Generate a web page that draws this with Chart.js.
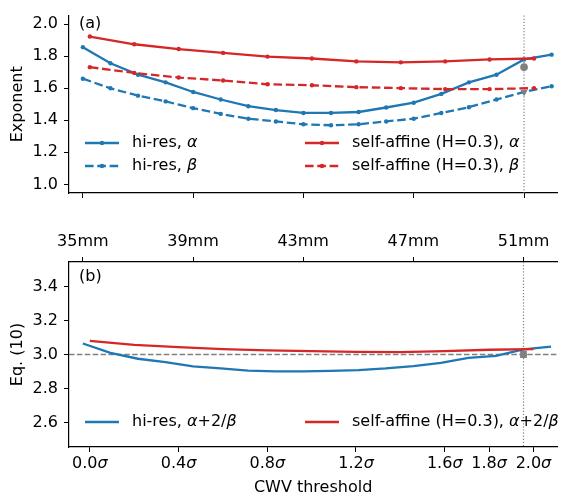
<!DOCTYPE html>
<html><head><meta charset="utf-8">
<script src="https://cdn.jsdelivr.net/npm/chart.js@4"></script>
<style>
html,body{margin:0;padding:0;background:#fff;overflow:hidden;width:562px;height:498px}
#wa{position:absolute;left:0;top:0;width:562px;height:215px}
#wb{position:absolute;left:0;top:215px;width:562px;height:283px}
</style></head><body>
<div id="wa"><canvas id="ca"></canvas></div>
<div id="wb"><canvas id="cb"></canvas></div>
<script>
// ---- data ----
const mmHires = [35,36,37,38,39,40,41,42,43,44,45,46,47,48,49,50,51,52];
const hiresAlpha = [1.857,1.756,1.685,1.637,1.577,1.530,1.488,1.464,1.446,1.446,1.452,1.480,1.510,1.565,1.637,1.685,1.780,1.810];
const hiresBeta  = [1.660,1.600,1.554,1.518,1.476,1.440,1.410,1.393,1.375,1.369,1.375,1.393,1.410,1.446,1.482,1.530,1.577,1.613];
const hiresEq    = [3.065,3.010,2.975,2.955,2.930,2.918,2.905,2.900,2.900,2.903,2.908,2.918,2.932,2.950,2.980,2.992,3.030,3.047];
const sigmaSA = [0.0,0.2,0.4,0.6,0.8,1.0,1.2,1.4,1.6,1.8,2.0];
const saAlpha = [1.923,1.875,1.845,1.821,1.798,1.786,1.768,1.762,1.768,1.780,1.786];
const saBeta  = [1.732,1.696,1.667,1.649,1.625,1.619,1.607,1.601,1.595,1.595,1.601];
const saEq    = [3.080,3.057,3.043,3.032,3.024,3.020,3.015,3.014,3.020,3.028,3.032];
const refMM = 51;
const refAlpha = 1.732, refBeta = 1.577, refEq = 3.0;
const eqTarget = 3.0;
const yTicksA = [1.0,1.2,1.4,1.6,1.8,2.0];
const yTicksB = [2.6,2.8,3.0,3.2,3.4];
const mmTicks = [35,39,43,47,51];
const sigmaTicks = [0.0,0.4,0.8,1.2,1.6,1.8,2.0];

// ---- style ----
const BLUE = '#1f77b4', RED = '#d62728', GRAY = '#808080';
const FS = 16;
const FONT = FS + 'px "DejaVu Sans"';
const IFONT = 'italic ' + FS + 'px "DejaVu Sans"';
const LW = 2.3, DASH = [8.6, 3.7];
Chart.defaults.font.family = '"DejaVu Sans"';
Chart.defaults.font.size = FS;
Chart.defaults.color = '#000';

const mmRange = {min: 34.497, max: 52.224};
const sgRange = {min: -0.09375, max: 2.107};

function pts(xs, ys){ return xs.map((x,i)=>({x:x, y:ys[i]})); }
function setTicks(arr){ return s => { s.ticks = arr.map(v=>({value:v})); }; }

function richText(ctx, x, y, segs, align){
  let w = 0;
  segs.forEach(s=>{ ctx.font = s[1] ? IFONT : FONT; w += ctx.measureText(s[0]).width; });
  let cx = align === 'center' ? x - w/2 : x;
  ctx.textAlign = 'left';
  segs.forEach(s=>{ ctx.font = s[1] ? IFONT : FONT; ctx.fillText(s[0], cx, y); cx += ctx.measureText(s[0]).width; });
}
function legendItem(ctx, x, y, color, dash, marker, segs){
  ctx.save();
  ctx.strokeStyle = color; ctx.lineWidth = LW; ctx.setLineDash(dash);
  ctx.beginPath(); ctx.moveTo(x, y); ctx.lineTo(x+34, y); ctx.stroke();
  ctx.setLineDash([]);
  if (marker){ ctx.fillStyle = color; ctx.beginPath(); ctx.arc(x+17, y, 2.2, 0, Math.PI*2); ctx.fill(); }
  ctx.fillStyle = '#000'; ctx.textBaseline = 'middle';
  richText(ctx, x+47, y, segs, 'left');
  ctx.restore();
}
function vline(chart, scaleId, v){
  const ctx = chart.ctx, a = chart.chartArea, x = chart.scales[scaleId].getPixelForValue(v);
  ctx.save(); ctx.strokeStyle = GRAY; ctx.lineWidth = 1.2; ctx.setLineDash([1.2, 1.9]);
  ctx.beginPath(); ctx.moveTo(x, a.top); ctx.lineTo(x, a.bottom); ctx.stroke(); ctx.restore();
}

const axisY = (range, ticks) => ({
  type:'linear', position:'left', min:range[0], max:range[1],
  afterBuildTicks: setTicks(ticks), afterFit: s => { s.width = 69; },
  ticks:{ padding:6, color:'#000', font:{size:FS}, callback: v => v.toFixed(1) },
  grid:{ drawOnChartArea:false, drawTicks:true, tickLength:5, color:'#000', lineWidth:1 },
  border:{ display:true, color:'#000', width:1.2 }
});

// ---- top panel ----
const topPlugin = {
  id:'topDeco',
  beforeDatasetsDraw(chart){ vline(chart, 'xm', refMM); },
  afterDraw(chart){
    const ctx = chart.ctx, a = chart.chartArea;
    ctx.save(); ctx.fillStyle = '#000'; ctx.font = FONT; ctx.textBaseline = 'middle';
    ctx.textAlign = 'left'; ctx.fillText('(a)', 79, 23.5);
    ctx.translate(18, (a.top + a.bottom)/2); ctx.rotate(-Math.PI/2);
    ctx.textAlign = 'center'; ctx.fillText('Exponent', 0, 0);
    ctx.restore();
    legendItem(ctx, 85, 143, BLUE, [], true, [['hi-res, ',0],['α',1]]);
    legendItem(ctx, 85, 166, BLUE, DASH, true, [['hi-res, ',0],['β',1]]);
    legendItem(ctx, 305, 143, RED, [], true, [['self-affine (H=0.3), ',0],['α',1]]);
    legendItem(ctx, 305, 166, RED, DASH, true, [['self-affine (H=0.3), ',0],['β',1]]);
  }
};
new Chart(document.getElementById('ca'), {
  type:'line',
  data:{ datasets:[
    {data:pts(mmHires, hiresAlpha), xAxisID:'xm', borderColor:BLUE, backgroundColor:BLUE, borderWidth:LW, pointRadius:2.2, pointBorderWidth:0, order:3},
    {data:pts(mmHires, hiresBeta), xAxisID:'xm', borderColor:BLUE, backgroundColor:BLUE, borderWidth:LW, borderDash:DASH, pointRadius:2.2, pointBorderWidth:0, order:3},
    {data:pts(sigmaSA, saAlpha), xAxisID:'xs', borderColor:RED, backgroundColor:RED, borderWidth:LW, pointRadius:2.2, pointBorderWidth:0, order:2},
    {data:pts(sigmaSA, saBeta), xAxisID:'xs', borderColor:RED, backgroundColor:RED, borderWidth:LW, borderDash:DASH, pointRadius:2.2, pointBorderWidth:0, order:2},
    {data:[{x:refMM, y:refAlpha}], xAxisID:'xm', showLine:false, pointStyle:'circle', pointRadius:3.8, backgroundColor:GRAY, borderColor:GRAY, pointBorderWidth:0, order:1},
    {data:[{x:refMM, y:refBeta}], xAxisID:'xm', showLine:false, pointStyle:'triangle', pointRotation:180, pointRadius:4.2, backgroundColor:GRAY, borderColor:GRAY, pointBorderWidth:0, order:1}
  ]},
  options:{
    responsive:true, maintainAspectRatio:false, animation:false, devicePixelRatio:1,
    layout:{ padding:{top:7, left:0, right:0, bottom:0} },
    plugins:{ legend:{display:false}, tooltip:{enabled:false} },
    elements:{ line:{tension:0, fill:false} },
    scales:{
      xm:{ type:'linear', position:'bottom', min:mmRange.min, max:mmRange.max,
           afterBuildTicks:setTicks(mmTicks), afterFit: s => { s.height = 22; },
           ticks:{ display:false },
           grid:{ drawOnChartArea:false, drawTicks:true, tickLength:5, color:'#000', lineWidth:1 },
           border:{ display:true, color:'#000', width:1.2 } },
      xs:{ type:'linear', display:false, min:sgRange.min, max:sgRange.max },
      y: axisY([0.946, 2.054], yTicksA)
    }
  },
  plugins:[topPlugin]
});

// ---- bottom panel ----
const botPlugin = {
  id:'botDeco',
  beforeDatasetsDraw(chart){
    vline(chart, 'xm', refMM);
    const ctx = chart.ctx, a = chart.chartArea, y = chart.scales.y.getPixelForValue(eqTarget);
    ctx.save(); ctx.strokeStyle = GRAY; ctx.lineWidth = 1.3; ctx.setLineDash([5.5, 2.4]);
    ctx.beginPath(); ctx.moveTo(a.left, y); ctx.lineTo(a.right, y); ctx.stroke(); ctx.restore();
  },
  afterDraw(chart){
    const ctx = chart.ctx, a = chart.chartArea, xs = chart.scales.xs;
    ctx.save(); ctx.fillStyle = '#000'; ctx.textBaseline = 'middle';
    sigmaTicks.forEach(v => {
      richText(ctx, xs.getPixelForValue(v), 249, [[v.toFixed(1),0],['σ',1]], 'center');
    });
    ctx.font = FONT; ctx.textAlign = 'left'; ctx.fillText('(b)', 79, 62);
    ctx.textAlign = 'center'; ctx.fillText('CWV threshold', (a.left + a.right)/2, 273);
    ctx.translate(18, (a.top + a.bottom)/2); ctx.rotate(-Math.PI/2);
    ctx.fillText('Eq. (10)', 0, 0);
    ctx.restore();
    legendItem(ctx, 85, 207, BLUE, [], false, [['hi-res, ',0],['α',1],['+2/',0],['β',1]]);
    legendItem(ctx, 305, 207, RED, [], false, [['self-affine (H=0.3), ',0],['α',1],['+2/',0],['β',1]]);
  }
};
new Chart(document.getElementById('cb'), {
  type:'line',
  data:{ datasets:[
    {data:pts(mmHires, hiresEq), xAxisID:'xm', borderColor:BLUE, borderWidth:LW, pointRadius:0, order:3},
    {data:pts(sigmaSA, saEq), xAxisID:'xs', borderColor:RED, borderWidth:LW, pointRadius:0, order:2},
    {data:[{x:refMM, y:refEq}], xAxisID:'xm', showLine:false, pointStyle:'rect', pointRadius:4.8, backgroundColor:GRAY, borderColor:GRAY, pointBorderWidth:0, order:1}
  ]},
  options:{
    responsive:true, maintainAspectRatio:false, animation:false, devicePixelRatio:1,
    layout:{ padding:0 },
    plugins:{ legend:{display:false}, tooltip:{enabled:false} },
    elements:{ line:{tension:0, fill:false} },
    scales:{
      xm:{ type:'linear', position:'top', min:mmRange.min, max:mmRange.max,
           afterBuildTicks:setTicks(mmTicks), afterFit: s => { s.height = 47; },
           ticks:{ padding:6, color:'#000', font:{size:FS}, maxRotation:0, autoSkip:false, callback: v => v + 'mm' },
           grid:{ drawOnChartArea:false, drawTicks:true, tickLength:5, color:'#000', lineWidth:1 },
           border:{ display:true, color:'#000', width:1.2 } },
      xs:{ type:'linear', position:'bottom', min:sgRange.min, max:sgRange.max,
           afterBuildTicks:setTicks(sigmaTicks), afterFit: s => { s.height = 51; },
           ticks:{ display:false },
           grid:{ drawOnChartArea:false, drawTicks:true, tickLength:5, color:'#000', lineWidth:1 },
           border:{ display:true, color:'#000', width:1.2 } },
      y: axisY([2.455, 3.545], yTicksB)
    }
  },
  plugins:[botPlugin]
});
</script>
</body></html>
